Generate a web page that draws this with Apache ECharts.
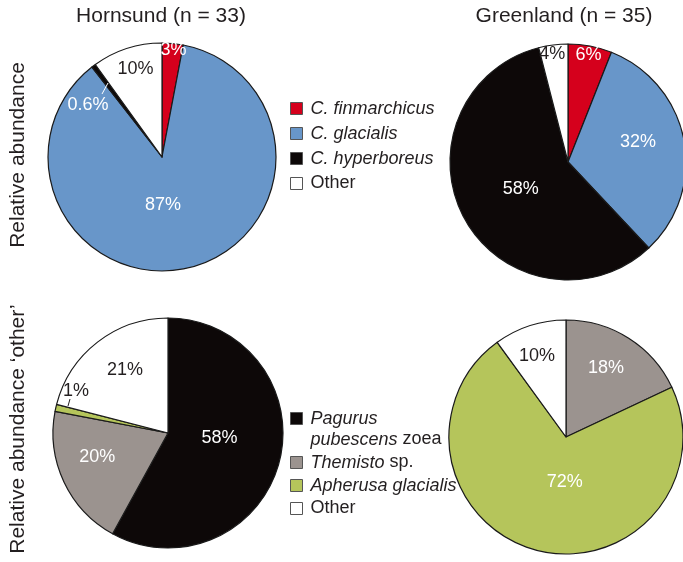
<!DOCTYPE html>
<html>
<head>
<meta charset="utf-8">
<script src="https://cdn.jsdelivr.net/npm/echarts@6/dist/echarts.min.js"></script>
<style>
html,body{margin:0;padding:0;background:#fff;}
#chart{width:683px;height:562px;}
</style>
</head>
<body>
<div id="chart"></div>
<script>
// ---- data ----
var calanusNames = ['C. finmarchicus', 'C. glacialis', 'C. hyperboreus', 'Other'];
var hornsundCalanus = [3, 87, 0.6, 10];
var greenlandCalanus = [6, 32, 58, 4];

var otherNames = ['Pagurus pubescens zoea', 'Themisto sp.', 'Apherusa glacialis', 'Other'];
var hornsundOther = [58, 20, 1, 21];
var greenlandOther = [0, 18, 72, 10];

var siteTitles = ['Hornsund (n = 33)', 'Greenland (n = 35)'];
var rowLabels = ['Relative abundance', 'Relative abundance \u2018other\u2019'];

// ---- styles ----
var FONT = '"Liberation Sans", Arial, Helvetica, sans-serif';
var DARK = '#231f20';
var colorMap = {
  'C. finmarchicus': '#d5001c',
  'C. glacialis': '#6896c9',
  'C. hyperboreus': '#0d0808',
  'Other': '#ffffff',
  'Pagurus pubescens zoea': '#0d0808',
  'Themisto sp.': '#9b938f',
  'Apherusa glacialis': '#b5c55b'
};

function buildData(names, values, offsets, darkLabels) {
  var out = [];
  for (var i = 0; i < names.length; i++) {
    if (values[i] === 0) continue;
    out.push({
      name: names[i],
      value: values[i],
      itemStyle: { color: colorMap[names[i]] },
      label: {
        offset: offsets[i],
        color: darkLabels[i] ? DARK : '#ffffff'
      }
    });
  }
  return out;
}

function pie(center, r, data) {
  return {
    type: 'pie',
    center: center,
    radius: r,
    startAngle: 90,
    clockwise: true,
    avoidLabelOverlap: false,
    silent: true,
    animation: false,
    z: 2,
    itemStyle: { borderColor: '#1a1a1a', borderWidth: 1.2 },
    label: {
      show: true,
      position: 'inside',
      fontFamily: FONT,
      fontSize: 18,
      formatter: function (p) { return p.value + '%'; }
    },
    labelLine: { show: false },
    emphasis: { disabled: true },
    data: data
  };
}

var series = [
  pie([162, 157], 114, buildData(calanusNames, hornsundCalanus,
      [[6, -47], [-13, -10], [-38, -4], [-8, -31]], [false, false, false, true])),
  pie([568, 162], 118, buildData(calanusNames, greenlandCalanus,
      [[9, -46], [9, -8], [7, -3], [-8, -46]], [false, false, false, true])),
  pie([168, 433], 115, buildData(otherNames, hornsundOther,
      [[-7, -10], [-16, -2], [-33, -29], [-6, -15]], [false, false, true, true])),
  pie([566, 437], 117, buildData(otherNames, greenlandOther,
      [[0, 0], [7, -17], [14, -15], [-10, -22]], [false, false, false, true]))
];

var legendText = { fontFamily: FONT, fontSize: 18, color: DARK, lineHeight: 20, padding: [0, 0, 0, 3] };
var rich = {
  i: { fontStyle: 'italic', fontFamily: FONT, fontSize: 18, color: DARK, lineHeight: 21 },
  n: { fontFamily: FONT, fontSize: 18, color: DARK, lineHeight: 21 }
};

var legendItemStyle = { borderColor: '#555', borderWidth: 1 };

var option = {
  animation: false,
  title: [
    { text: siteTitles[0], left: 161, top: 6, textAlign: 'center', padding: 0,
      textStyle: { fontFamily: FONT, fontSize: 21, fontWeight: 'normal', color: DARK } },
    { text: siteTitles[1], left: 564, top: 6, textAlign: 'center', padding: 0,
      textStyle: { fontFamily: FONT, fontSize: 21, fontWeight: 'normal', color: DARK } }
  ],
  legend: [
    {
      left: 290, top: 98, orient: 'vertical', padding: 0,
      itemWidth: 12, itemHeight: 12, itemGap: 4, icon: 'rect',
      selectedMode: false,
      itemStyle: legendItemStyle,
      data: calanusNames,
      textStyle: Object.assign({ rich: rich }, legendText),
      formatter: function (name) {
        return name === 'Other' ? '{n|Other}' : '{i|' + name + '}';
      }
    },
    {
      left: 290, top: 387, orient: 'vertical', padding: 0,
      itemWidth: 12, itemHeight: 12, icon: 'rect',
      selectedMode: false,
      itemStyle: legendItemStyle,
      data: [otherNames[0]],
      textStyle: Object.assign({ rich: rich }, legendText, { lineHeight: 21 }),
      formatter: function () {
        return '{n| }\n{i|Pagurus}\n{i|pubescens}{n| zoea}';
      }
    },
    {
      left: 290, top: 452, orient: 'vertical', padding: 0,
      itemWidth: 12, itemHeight: 12, itemGap: 2, icon: 'rect',
      selectedMode: false,
      itemStyle: legendItemStyle,
      data: otherNames.slice(1),
      textStyle: Object.assign({ rich: rich }, legendText),
      formatter: function (name) {
        if (name === 'Themisto sp.') return '{i|Themisto}{n| sp.}';
        if (name === 'Other') return '{n|Other}';
        return '{i|' + name + '}';
      }
    }
  ],
  graphic: [
    { type: 'text', x: 18, y: 155, rotation: Math.PI / 2,
      style: { text: rowLabels[0], font: '21px ' + FONT, fill: DARK, align: 'center', verticalAlign: 'middle' } },
    { type: 'text', x: 18, y: 429, rotation: Math.PI / 2,
      style: { text: rowLabels[1], font: '21px ' + FONT, fill: DARK, align: 'center', verticalAlign: 'middle' } },
    { type: 'line', z: 10, shape: { x1: 102, y1: 94, x2: 108, y2: 83 },
      style: { stroke: '#ffffff', lineWidth: 1 } },
    { type: 'line', z: 10, shape: { x1: 70, y1: 399, x2: 68, y2: 406 },
      style: { stroke: DARK, lineWidth: 1 } }
  ],
  series: series
};

var chart = echarts.init(document.getElementById('chart'), null, { renderer: 'canvas' });
chart.setOption(option);
</script>
</body>
</html>
